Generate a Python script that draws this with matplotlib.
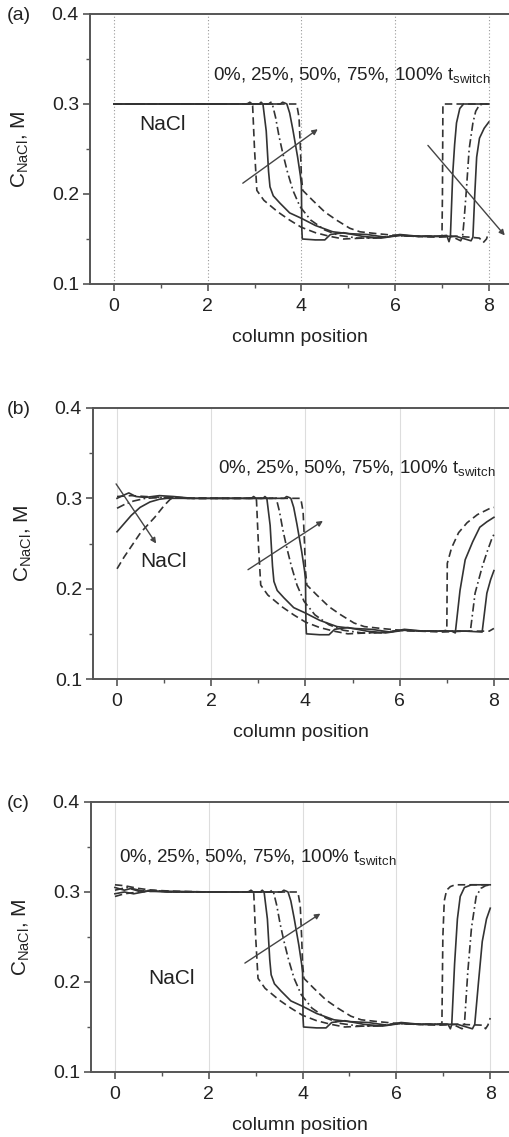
import numpy as np
import matplotlib
matplotlib.use("Agg")
import matplotlib.pyplot as plt
from matplotlib.ticker import MultipleLocator

plt.rcParams["font.family"] = ["Liberation Sans", "DejaVu Sans"]
plt.rcParams["mathtext.fontset"] = "custom"
plt.rcParams["mathtext.rm"] = "Liberation Sans"

# t_switch fractions, one curve each
fractions = ["0%", "25%", "50%", "75%", "100%"]
panel_labels = ["(a)", "(b)", "(c)"]

# front region (x > 2), same in all three panels
front_x = [
    [2.5, 2.8, 2.92, 2.96, 3.0, 3.05, 3.2, 3.5, 3.75, 4.0, 4.3, 4.6, 4.9, 5.3, 5.7, 6.1, 6.5, 6.9],
    [2.5, 2.85, 2.9, 2.95, 3.1, 3.14, 3.18, 3.25, 3.3, 3.33, 3.4, 3.54, 3.75, 4.0, 4.3, 4.67,
     5.0, 5.4, 5.8, 6.1, 6.5, 6.9],
    [2.5, 3.3, 3.35, 3.38, 3.45, 3.52, 3.6, 3.7, 3.82, 3.97, 4.2, 4.5, 4.8, 5.2, 5.6, 6.0, 6.4, 6.9],
    [2.5, 3.55, 3.6, 3.65, 3.69, 3.75, 3.82, 3.92, 3.98, 4.0, 4.01, 4.02, 4.3, 4.5, 4.62, 4.9,
     5.3, 5.7, 6.1, 6.5, 6.9],
    [2.5, 3.85, 3.9, 3.95, 3.98, 4.0, 4.03, 4.24, 4.5, 4.75, 5.03, 5.25, 5.6, 6.0, 6.4, 6.9],
]
front_y = [
    [0.3, 0.3, 0.301, 0.298, 0.25, 0.204, 0.193, 0.18, 0.171, 0.163, 0.157, 0.153, 0.150, 0.151,
     0.152, 0.154, 0.153, 0.153],
    [0.3, 0.3, 0.302, 0.3, 0.3, 0.302, 0.3, 0.27, 0.225, 0.208, 0.198, 0.19, 0.179, 0.173, 0.165,
     0.158, 0.156, 0.155, 0.152, 0.155, 0.153, 0.153],
    [0.3, 0.3, 0.302, 0.3, 0.285, 0.265, 0.246, 0.225, 0.204, 0.186, 0.171, 0.16, 0.154, 0.151,
     0.151, 0.154, 0.153, 0.153],
    [0.3, 0.3, 0.302, 0.301, 0.3, 0.29, 0.271, 0.241, 0.22, 0.21, 0.16, 0.150, 0.149, 0.149,
     0.155, 0.157, 0.153, 0.151, 0.154, 0.153, 0.153],
    [0.3, 0.3, 0.3, 0.285, 0.25, 0.22, 0.204, 0.193, 0.18, 0.171, 0.162, 0.158, 0.156, 0.154,
     0.153, 0.152],
]

# inlet region (0..2) per panel
a_left_x = [[0.0, 1.0, 2.0]] * 5
a_left_y = [[0.3, 0.3, 0.3]] * 5

b_left_x = [
    [0.0, 0.3, 0.6, 1.0, 1.5, 2.0],
    [0.0, 0.12, 0.25, 0.4, 0.6, 0.9, 1.2, 1.6, 2.0],
    [0.0, 0.15, 0.35, 0.6, 1.0, 1.5, 2.0],
    [0.0, 0.15, 0.3, 0.49, 0.7, 0.9, 1.06, 1.5, 2.0],
    [0.0, 0.15, 0.28, 0.5, 0.8, 1.0, 1.13, 1.3, 1.6, 2.0],
]
b_left_y = [
    [0.302, 0.303, 0.302, 0.301, 0.3, 0.3],
    [0.300, 0.303, 0.306, 0.302, 0.301, 0.303, 0.302, 0.3, 0.3],
    [0.289, 0.293, 0.297, 0.3, 0.301, 0.3, 0.3],
    [0.263, 0.272, 0.281, 0.29, 0.296, 0.299, 0.3, 0.3, 0.3],
    [0.222, 0.235, 0.245, 0.262, 0.279, 0.292, 0.299, 0.301, 0.3, 0.3],
]

c_left_x = [
    [0.0, 0.2, 0.5, 0.8, 1.2, 2.0],
    [0.0, 0.2, 0.35, 0.6, 1.0, 2.0],
    [0.0, 0.25, 0.5, 0.8, 1.2, 2.0],
    [0.0, 0.2, 0.4, 0.7, 1.1, 2.0],
    [0.0, 0.2, 0.5, 0.9, 1.3, 2.0],
]
c_left_y = [
    [0.308, 0.307, 0.304, 0.302, 0.301, 0.3],
    [0.305, 0.302, 0.304, 0.301, 0.301, 0.3],
    [0.302, 0.305, 0.301, 0.302, 0.3, 0.3],
    [0.298, 0.300, 0.298, 0.301, 0.3, 0.3],
    [0.295, 0.298, 0.300, 0.301, 0.3, 0.3],
]

# outlet region (x > 6.9) per panel
a_right_x = [
    [7.0, 7.01, 7.02, 7.1, 8.0],
    [7.1, 7.15, 7.18, 7.23, 7.27, 7.31, 7.38, 7.46, 8.0],
    [7.2, 7.4, 7.44, 7.47, 7.52, 7.58, 7.66, 7.72, 7.8, 7.9, 8.0],
    [7.3, 7.62, 7.66, 7.7, 7.74, 7.8, 7.9, 8.0],
    [7.3, 7.6, 7.8, 7.88, 7.95, 8.0],
]
a_right_y = [
    [0.153, 0.2, 0.3, 0.3, 0.3],
    [0.154, 0.147, 0.153, 0.223, 0.255, 0.279, 0.295, 0.3, 0.3],
    [0.153, 0.148, 0.153, 0.17, 0.204, 0.25, 0.279, 0.292, 0.299, 0.3, 0.3],
    [0.153, 0.148, 0.152, 0.2, 0.241, 0.262, 0.273, 0.28],
    [0.153, 0.152, 0.151, 0.146, 0.150, 0.158],
]

b_right_x = [
    [7.0, 7.01, 7.1, 7.25, 7.43, 7.65, 7.92, 8.0],
    [7.1, 7.18, 7.28, 7.39, 7.55, 7.7, 7.85, 8.0],
    [7.3, 7.5, 7.6, 7.75, 7.85, 7.96, 8.0],
    [7.4, 7.75, 7.85, 7.93, 8.0],
    [7.4, 7.9, 8.0],
]
b_right_y = [
    [0.154, 0.228, 0.245, 0.262, 0.273, 0.282, 0.289, 0.29],
    [0.153, 0.151, 0.198, 0.232, 0.252, 0.268, 0.274, 0.279],
    [0.153, 0.153, 0.195, 0.224, 0.24, 0.256, 0.26],
    [0.153, 0.152, 0.195, 0.21, 0.22],
    [0.153, 0.153, 0.156],
]

c_right_x = [
    [6.97, 6.99, 7.02, 7.07, 7.15, 7.25, 8.0],
    [7.1, 7.15, 7.18, 7.24, 7.3, 7.36, 7.45, 7.6, 8.0],
    [7.2, 7.4, 7.45, 7.52, 7.6, 7.7, 7.8, 7.9, 8.0],
    [7.3, 7.62, 7.67, 7.75, 7.83, 7.92, 8.0],
    [7.3, 7.85, 7.9, 7.95, 8.0],
]
c_right_y = [
    [0.154, 0.25, 0.29, 0.302, 0.306, 0.308, 0.308],
    [0.153, 0.148, 0.153, 0.22, 0.27, 0.295, 0.305, 0.308, 0.308],
    [0.153, 0.148, 0.153, 0.21, 0.26, 0.295, 0.304, 0.307, 0.308],
    [0.153, 0.148, 0.153, 0.2, 0.245, 0.27, 0.282],
    [0.153, 0.152, 0.148, 0.152, 0.16],
]

LINE = "#333333"
AXC = "#555555"
TXT = "#222222"
styles = [(0, (4.5, 2.5)), "-", (0, (5, 2, 1, 2)), "-", (0, (4.5, 2.5))]

fig = plt.figure(figsize=(5.09, 11.37), dpi=100)
W, H = 509.0, 1137.0

# pixel boxes: left, top, bottom, x right limit
boxes = [(90, 14, 284, 8.43), (93, 408, 679, 8.32), (91, 802, 1072, 8.40)]
lefts = [(a_left_x, a_left_y), (b_left_x, b_left_y), (c_left_x, c_left_y)]
rights = [(a_right_x, a_right_y), (b_right_x, b_right_y), (c_right_x, c_right_y)]

axes = []
for p, (lx, top, bot, xr) in enumerate(boxes):
    ax = fig.add_axes([lx / W, 1 - bot / H, 1 - lx / W, (bot - top) / H])
    axes.append(ax)
    Lx, Ly = lefts[p]
    Rx, Ry = rights[p]
    for i in range(5):
        x = np.concatenate([Lx[i], front_x[i], Rx[i]])
        y = np.concatenate([Ly[i], front_y[i], Ry[i]])
        ax.plot(x, y, color=LINE, lw=1.2, linestyle=styles[i])

    ax.set_xlim(-0.51, xr)
    ax.set_ylim(0.1, 0.4)
    ax.xaxis.set_major_locator(MultipleLocator(2))
    ax.xaxis.set_minor_locator(MultipleLocator(1))
    ax.yaxis.set_major_locator(MultipleLocator(0.1))
    ax.yaxis.set_minor_locator(MultipleLocator(0.05))
    ax.set_yticklabels([f"{v:.1f}" for v in ax.get_yticks()])

    if p == 0:
        ax.grid(axis="x", which="major", color="#999999", lw=0.8, linestyle=(0, (1, 2)))
    else:
        ax.grid(axis="x", which="major", color="#dddddd", lw=0.8)
    ax.set_axisbelow(True)

    for s in ["left", "bottom", "top"]:
        ax.spines[s].set_color(AXC)
        ax.spines[s].set_linewidth(1.4)
    ax.spines["right"].set_visible(False)
    ax.tick_params(which="major", length=5, width=1.2, color=AXC, labelsize=14,
                   labelcolor=TXT, pad=3)
    ax.tick_params(which="minor", length=3, width=1.0, color=AXC)
    ax.tick_params(axis="x", pad=5)

    ax.set_xlabel("column position", fontsize=14, color=TXT, labelpad=10)
    ax.set_ylabel(r"C$_{\mathrm{NaCl}}$, M", fontsize=15, color=TXT, labelpad=15)
    # panel letter, left-aligned at the same figure x for all panels
    fig.text(7 / W, 1 - (top + 2) / H, panel_labels[p], fontsize=14,
             color=TXT, ha="left", va="center")

label = ", ".join(fractions) + r" t$_{\mathrm{switch}}$"
arrow = dict(arrowstyle="-|>", color="#444444", lw=1.0, mutation_scale=8,
             shrinkA=0, shrinkB=0)

ax = axes[0]
ax.text(2.11, 0.331, label, fontsize=13.5, color=TXT, va="center")
ax.text(0.55, 0.277, "NaCl", fontsize=15, color=TXT, va="center")
ax.annotate("", xy=(4.35, 0.272), xytext=(2.75, 0.212), arrowprops=arrow)
ax.annotate("", xy=(8.34, 0.154), xytext=(6.70, 0.254), arrowprops=arrow)

ax = axes[1]
ax.text(2.14, 0.333, label, fontsize=13.5, color=TXT, va="center")
ax.text(0.49, 0.23, "NaCl", fontsize=15, color=TXT, va="center")
ax.annotate("", xy=(0.83, 0.25), xytext=(-0.02, 0.316), arrowprops=arrow)
ax.annotate("", xy=(4.37, 0.275), xytext=(2.78, 0.221), arrowprops=arrow)

ax = axes[2]
ax.text(0.085, 0.338, label, fontsize=13.5, color=TXT, va="center")
ax.text(0.70, 0.204, "NaCl", fontsize=15, color=TXT, va="center")
ax.annotate("", xy=(4.38, 0.276), xytext=(2.77, 0.221), arrowprops=arrow)

fig.savefig("out.png", dpi=100)
